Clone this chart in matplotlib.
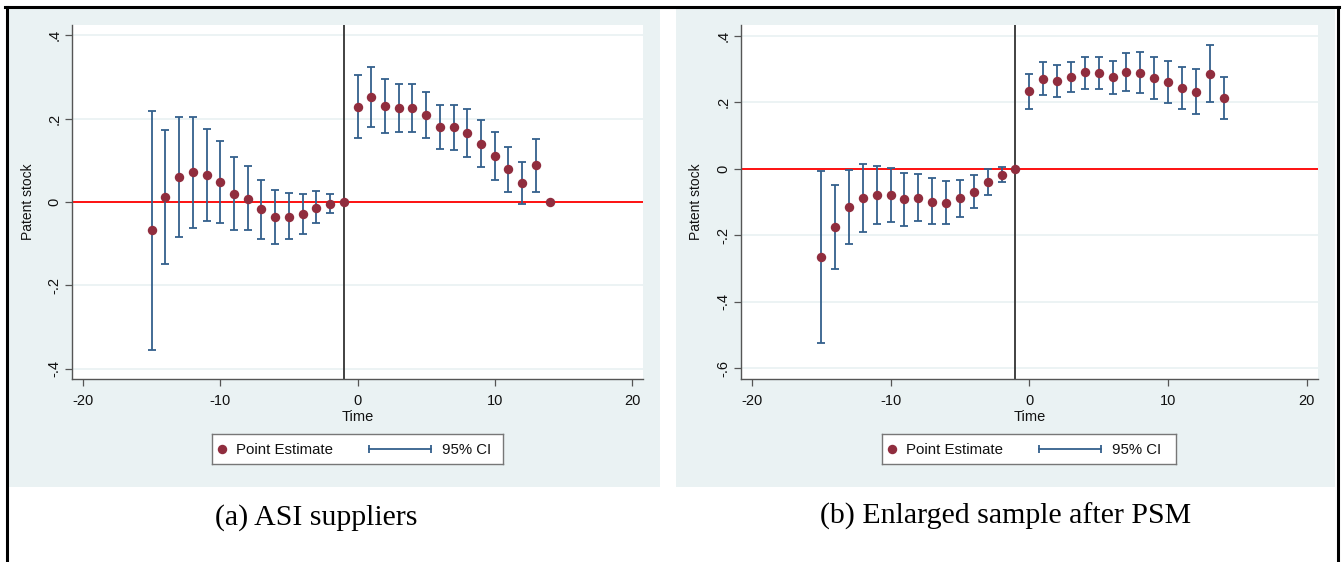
import numpy as np
import matplotlib
matplotlib.use("Agg")
import matplotlib.pyplot as plt
from matplotlib.patches import Rectangle
from matplotlib.lines import Line2D

plt.rcParams['font.family'] = ['Liberation Sans', 'DejaVu Sans']

# event time
time = list(range(-15, 15))

# panel (a): ASI suppliers
coef_a = [-0.068, 0.013, 0.059, 0.071, 0.064, 0.047, 0.020, 0.008, -0.018, -0.036, -0.036, -0.029, -0.014, -0.005, 0.0,
          0.228, 0.251, 0.231, 0.226, 0.225, 0.208, 0.181, 0.180, 0.165, 0.140, 0.111, 0.079, 0.045, 0.088, 0.0]
lo_a = [-0.356, -0.149, -0.084, -0.062, -0.046, -0.050, -0.068, -0.068, -0.088, -0.100, -0.090, -0.076, -0.051, -0.027, np.nan,
        0.154, 0.181, 0.166, 0.169, 0.167, 0.154, 0.128, 0.126, 0.108, 0.083, 0.054, 0.023, -0.006, 0.025, np.nan]
hi_a = [0.219, 0.173, 0.203, 0.205, 0.176, 0.146, 0.108, 0.087, 0.053, 0.030, 0.021, 0.019, 0.027, 0.019, np.nan,
        0.305, 0.324, 0.295, 0.284, 0.283, 0.263, 0.234, 0.234, 0.224, 0.196, 0.167, 0.133, 0.096, 0.151, np.nan]

# panel (b): enlarged sample after PSM
coef_b = [-0.265, -0.176, -0.116, -0.089, -0.080, -0.080, -0.092, -0.087, -0.099, -0.102, -0.089, -0.069, -0.041, -0.019, 0.0,
          0.233, 0.271, 0.265, 0.276, 0.290, 0.289, 0.275, 0.290, 0.289, 0.273, 0.260, 0.242, 0.231, 0.286, 0.212]
lo_b = [-0.524, -0.302, -0.227, -0.190, -0.166, -0.160, -0.172, -0.157, -0.167, -0.166, -0.145, -0.118, -0.078, -0.040, np.nan,
        0.180, 0.221, 0.217, 0.232, 0.241, 0.239, 0.225, 0.234, 0.227, 0.211, 0.197, 0.179, 0.163, 0.200, 0.148]
hi_b = [-0.006, -0.049, -0.003, 0.013, 0.008, 0.001, -0.012, -0.015, -0.029, -0.037, -0.033, -0.020, -0.002, 0.004, np.nan,
        0.286, 0.322, 0.312, 0.320, 0.337, 0.337, 0.325, 0.347, 0.352, 0.335, 0.323, 0.306, 0.299, 0.372, 0.276]

yticks_a = [0.4, 0.2, 0.0, -0.2, -0.4]
ylabels_a = [".4", ".2", "0", "-.2", "-.4"]
yticks_b = [0.4, 0.2, 0.0, -0.2, -0.4, -0.6]
ylabels_b = [".4", ".2", "0", "-.2", "-.4", "-.6"]
xticks = [-20, -10, 0, 10, 20]

W, H = 1344, 562
BG = "#EAF2F3"
CRAN = "#902D3E"
NAVY = "#34608C"

fig = plt.figure(figsize=(W / 100, H / 100), dpi=100)


def rect(x0, y0, x1, y1):
    return [x0 / W, 1 - y1 / H, (x1 - x0) / W, (y1 - y0) / H]


# outer frame
fig.add_artist(Line2D([5 / W, 1339 / W], [1 - 6.5 / H, 1 - 6.5 / H], color="black", lw=2.2))
fig.add_artist(Line2D([6.5 / W, 6.5 / W], [0, 1 - 6.5 / H], color="black", lw=2.2))
fig.add_artist(Line2D([1337.5 / W, 1337.5 / W], [0, 1 - 6.5 / H], color="black", lw=2.2))

# panel backgrounds
for x0, x1 in [(8, 660), (676, 1335)]:
    fig.add_artist(Rectangle((x0 / W, 1 - 487 / H), (x1 - x0) / W, (487 - 8) / H,
                             facecolor=BG, edgecolor="none", zorder=0))


def panel(box, coef, lo, hi, ylim, yticks, ylabels):
    ax = fig.add_axes(rect(*box))
    ax.set_facecolor("white")
    ax.set_xlim(-20.8, 20.8)
    ax.set_ylim(*ylim)
    for t in yticks:
        ax.axhline(t, color=BG, lw=1.3, zorder=1)
    ax.axhline(0, color="red", lw=1.3, zorder=2)
    ax.axvline(-1, color="#333333", lw=1.3, zorder=2)
    c = np.array(coef)
    l = np.array(lo)
    h = np.array(hi)
    ax.errorbar(time, c, yerr=[c - l, h - c], fmt="none", ecolor=NAVY, elinewidth=1.3,
                capsize=3.2, capthick=1.3, zorder=3)
    ax.plot(time, c, "o", color=CRAN, markersize=6.8, zorder=4, markeredgewidth=0)
    ax.set_xticks(xticks)
    ax.set_xticklabels([str(v) for v in xticks])
    ax.set_yticks(yticks)
    ax.set_yticklabels(ylabels, rotation=90, va="center")
    for s in ["top", "right"]:
        ax.spines[s].set_visible(False)
    for s in ["left", "bottom"]:
        ax.spines[s].set_color("#555555")
        ax.spines[s].set_linewidth(1.0)
    ax.tick_params(length=5, width=0.9, color="#555555", labelsize=10.5, labelcolor="#111111")
    ax.tick_params(axis="x", pad=6)
    ax.tick_params(axis="y", pad=2.5)
    ax.set_xlabel("Time", fontsize=10.5, labelpad=1, color="#111111")
    ax.set_ylabel("Patent stock", fontsize=10, color="#111111")
    ax.yaxis.set_label_coords(-0.065, 0.5)
    return ax


panel((72, 25, 643, 379), coef_a, lo_a, hi_a, (-0.425, 0.425), yticks_a, ylabels_a)
panel((740.7, 25, 1318, 379), coef_b, lo_b, hi_b, (-0.632, 0.432), yticks_b, ylabels_b)


def legend(x0, x1):
    w = x1 - x0
    lg = fig.add_axes(rect(x0, 434, x1, 464))
    lg.set_xlim(0, w)
    lg.set_ylim(0, 30)
    lg.set_xticks([])
    lg.set_yticks([])
    lg.set_facecolor("white")
    for s in lg.spines.values():
        s.set_color("#777777")
        s.set_linewidth(1.0)
    lg.plot([10], [15], "o", color=CRAN, markersize=6.8, markeredgewidth=0)
    lg.text(24, 14.5, "Point Estimate", fontsize=10.8, va="center", ha="left", color="#111111")
    lg.plot([157, 219], [15, 15], color=NAVY, lw=1.3)
    lg.plot([157, 219], [15, 15], "|", color=NAVY, markersize=6, markeredgewidth=1.3)
    lg.text(230, 14.5, "95% CI", fontsize=10.8, va="center", ha="left", color="#111111")


legend(212, 503)
legend(882, 1176)

fig.text(316 / W, 1 - 518 / H, "(a) ASI suppliers", family="Liberation Serif", fontsize=21.5,
         ha="center", va="center")
fig.text(1006 / W, 1 - 516 / H, "(b) Enlarged sample after PSM", family="Liberation Serif", fontsize=21.5,
         ha="center", va="center")

fig.savefig("out.png", dpi=100)
